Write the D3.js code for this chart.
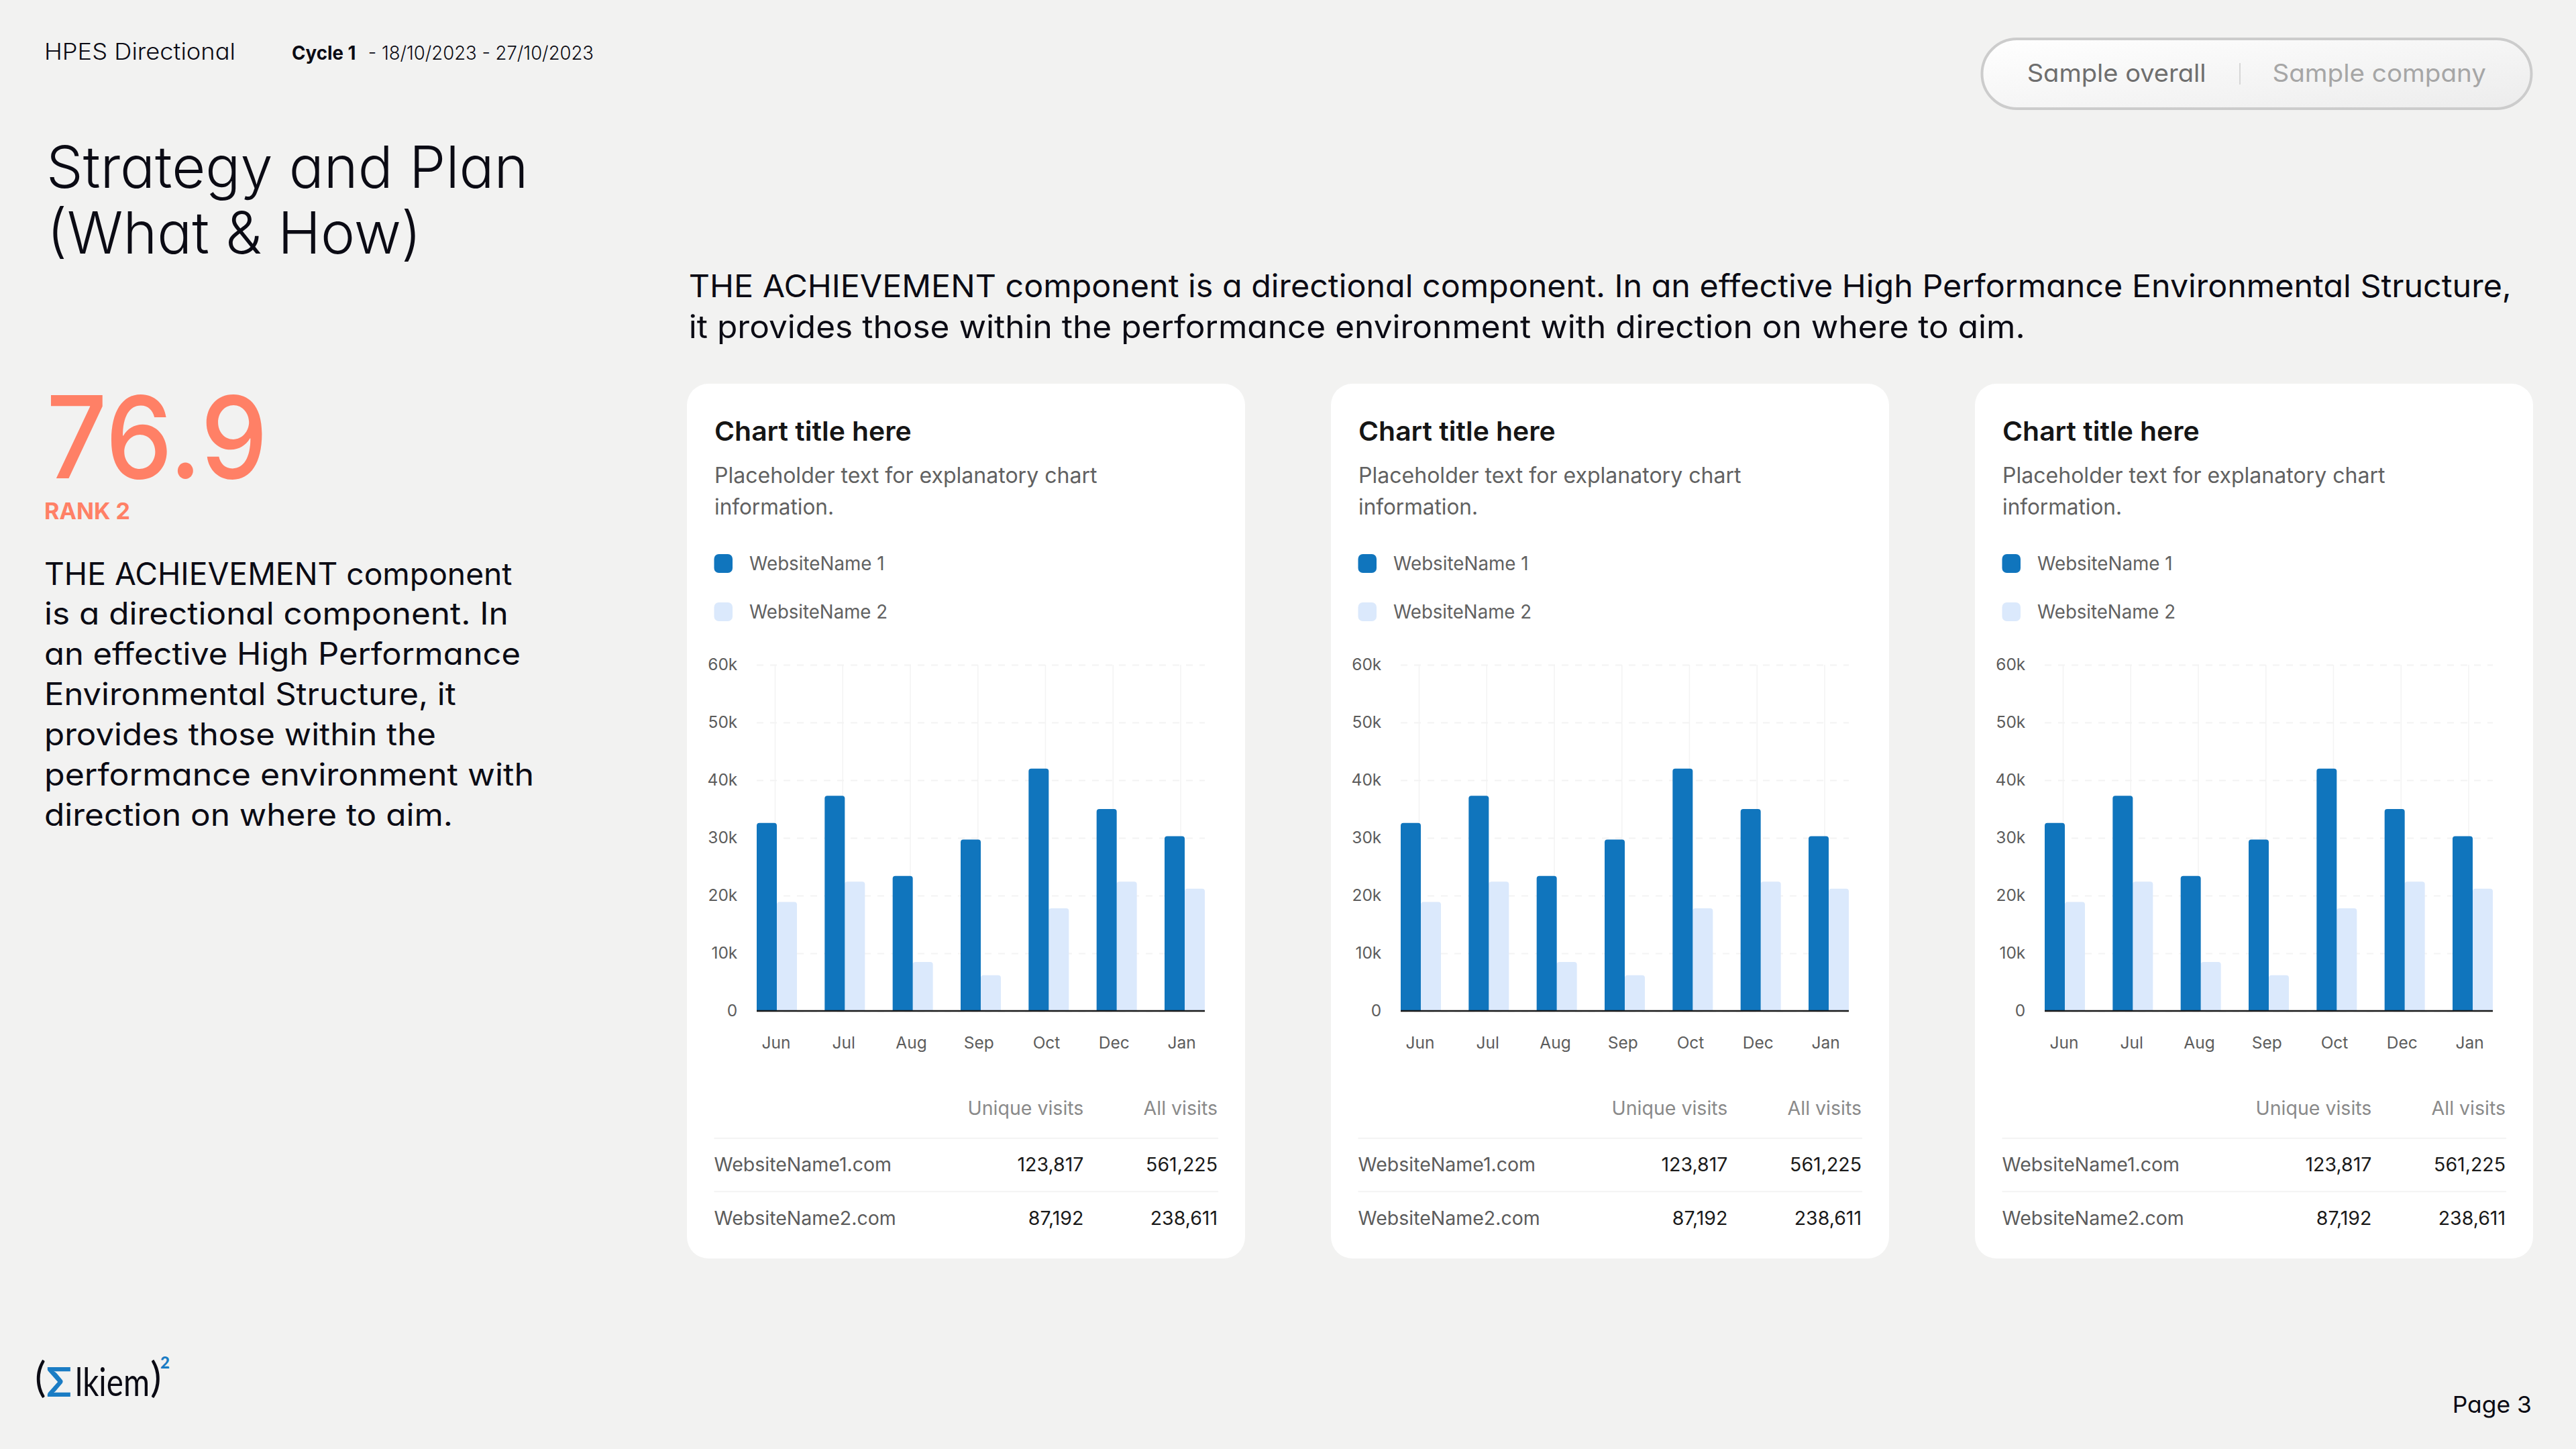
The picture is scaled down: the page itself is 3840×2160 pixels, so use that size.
<!DOCTYPE html>
<html>
<head>
<meta charset="utf-8">
<script src="https://cdnjs.cloudflare.com/ajax/libs/d3/7.8.5/d3.min.js"></script>
<style>
html,body{margin:0;padding:0;background:#f2f2f1;}
svg{display:block;}
text{font-family:Inter,"Noto Sans",sans-serif;}
.geo{font-feature-settings:"cv11" 1,"ss03" 0;}
</style>
</head>
<body>
<svg id="page" width="3840" height="2160" viewBox="0 0 3840 2160"></svg>
<script>
const months = ["Jun","Jul","Aug","Sep","Oct","Dec","Jan"];
const website1 = [32600,37300,23400,29700,42000,35000,30300];
const website2 = [18900,22400,8500,6200,17800,22400,21200];
const yTicks = [0,10000,20000,30000,40000,50000,60000];
const seriesNames = ["WebsiteName 1","WebsiteName 2"];
const seriesColors = ["#1075bd","#dbe9fc"];
const siteNames = ["WebsiteName1.com","WebsiteName2.com"];
const uniqueVisits = [123817,87192];
const allVisits = [561225,238611];
const tableHeads = ["Unique visits","All visits"];
const cardTitle = "Chart title here";
const cardNote = ["Placeholder text for explanatory chart","information."];
const introLines = ["THE ACHIEVEMENT component is a directional component. In an effective High Performance Environmental Structure,","it provides those within the performance environment with direction on where to aim."];
const sideLines = ["THE ACHIEVEMENT component","is a directional component. In","an effective High Performance","Environmental Structure, it","provides those within the","performance environment with","direction on where to aim."];
const sideEnds = [763.5,757.8,776,679.7,650,796,675];
const cards = [0,1,2];

const svg = d3.select("#page");
svg.append("rect").attr("width",3840).attr("height",2160).attr("fill","#f2f2f1");
const defs = svg.append("defs");
const grad = defs.append("linearGradient").attr("id","pill").attr("x1","0").attr("y1","0").attr("x2","1").attr("y2","1");
grad.append("stop").attr("offset","0").attr("stop-color","#ffffff");
grad.append("stop").attr("offset","1").attr("stop-color","#ececec");

function label(g,str,x,y,opt){
  const t = g.append("text").text(str).attr("x",x).attr("y",y)
    .attr("font-size",opt.size).attr("font-weight",opt.weight||400).attr("fill",opt.fill||"#0b0b14");
  if(opt.geo) t.attr("class","geo");
  if(opt.family) t.style("font-family",opt.family);
  if(opt.anchor) t.attr("text-anchor",opt.anchor);
  if(opt.width) t.attr("textLength",opt.width).attr("lengthAdjust","spacingAndGlyphs");
  return t;
}

/* Page chrome */
const page = svg.append("g");
label(page,"HPES Directional",66,89,{size:34,weight:300,geo:1,width:285});
label(page,"Cycle 1",435,89,{size:28,weight:700,geo:1,width:95.5});
label(page," - 18/10/2023 - 27/10/2023",541,89,{size:28,weight:300,geo:1,width:344}).attr("xml:space","preserve");
label(page,"Strategy and Plan",69,279.6,{size:87,weight:300,geo:1,width:718.5});
label(page,"(What & How)",70,377.5,{size:87,weight:300,geo:1,width:558});

/* Toggle */
page.append("rect").attr("x",2954.5).attr("y",58).attr("width",819).attr("height",104).attr("rx",52)
  .attr("fill","url(#pill)").attr("stroke","#cccccc").attr("stroke-width",4);
label(page,"Sample overall",3021.7,121.7,{size:37,weight:400,geo:1,fill:"#6e6e6e",width:266.8});
page.append("line").attr("x1",3339).attr("x2",3339).attr("y1",94).attr("y2",126).attr("stroke","#cccccc").attr("stroke-width",1.5);
label(page,"Sample company",3387.4,121.7,{size:37,weight:400,geo:1,fill:"#a6a6a6",width:318.6});

/* Intro */
label(page,introLines[0],1026.8,443.3,{size:47,weight:400,geo:1,width:2717});
label(page,introLines[1],1026.8,503.7,{size:47,weight:400,geo:1,width:1992});

/* Side column */
label(page,"76.9",69,713,{size:170,weight:500,geo:1,fill:"#ff8066",width:330});
label(page,"RANK 2",66,773.7,{size:34,weight:700,geo:1,fill:"#ff8066",width:128});
const sideBase = d3.scaleLinear().domain([0,6]).range([871.5,1230.9]);
sideLines.forEach((s,i)=>label(page,s,66,sideBase(i),{size:46,weight:400,geo:1,width:sideEnds[i]-66}));

/* Footer */
const logoFont = 'Lato,"Noto Sans",sans-serif';
label(page,"(",52,2075,{size:62,weight:400,family:logoFont,fill:"#0b0b14"});
label(page,"Σ",69,2082,{size:62,weight:700,family:logoFont,fill:"#1a7cc4",width:38});
label(page,"lkiem",112,2080.7,{size:58,weight:400,family:logoFont,fill:"#0b0b14",width:111});
label(page,")",224,2075,{size:62,weight:400,family:logoFont,fill:"#0b0b14"});
label(page,"2",239,2040,{size:24,weight:900,family:logoFont,fill:"#1a7cc4",width:14});
label(page,"Page 3",3655.7,2105.7,{size:34,weight:400,geo:1,fill:"#0b0b14",width:118.3});

/* Cards */
const cardX = d3.scalePoint().domain(cards).range([1024,2944]);
const cardW = 832, cardH = 1304, cardTop = 572;
const plotL = 104, plotW = 668, plotTop = 419, plotH = 516;

const x = d3.scaleBand().domain(months).range([0,plotW]).paddingInner(0.408).paddingOuter(0);
const xSub = d3.scaleBand().domain([0,1]).range([0,x.bandwidth()]);
const xLabels = d3.scalePoint().domain(months).range([27,631.5]);
const y = d3.scaleLinear().domain([0,60000]).range([plotH,0]);
const fmt = d3.format(",");

function topRounded(xp,yp,w,h,r){
  return `M${xp},${yp+h}V${yp+r}Q${xp},${yp} ${xp+r},${yp}H${xp+w-r}Q${xp+w},${yp} ${xp+w},${yp+r}V${yp+h}Z`;
}

cards.forEach(c=>{
  const g = svg.append("g").attr("transform",`translate(${cardX(c)},${cardTop})`);
  g.append("rect").attr("width",cardW).attr("height",cardH).attr("rx",32).attr("fill","#ffffff");

  label(g,cardTitle,41,85.3,{size:39.5,weight:600,fill:"#151515",width:293.8});
  label(g,cardNote[0],41,148,{size:32,weight:400,fill:"#616161",width:570.5});
  label(g,cardNote[1],41,195.3,{size:32,weight:400,fill:"#616161",width:178});

  seriesNames.forEach((n,i)=>{
    const ly = d3.scaleLinear().domain([0,1]).range([254,326])(i);
    g.append("rect").attr("x",40.5).attr("y",ly).attr("width",27.5).attr("height",28).attr("rx",7).attr("fill",seriesColors[i]);
    label(g,n,93,ly+24,{size:28.5,weight:400,fill:"#616161",width:i?206:201.6});
  });

  const plot = g.append("g").attr("transform",`translate(${plotL},${plotTop})`);

  const gridV = plot.append("g").attr("transform",`translate(0,${plotH})`)
    .call(d3.axisBottom(xLabels).tickSize(-plotH).tickPadding(0).tickFormat(""));
  gridV.select(".domain").remove();
  gridV.selectAll("line").attr("stroke","#f3f3f3").attr("stroke-width",1.5);

  const gridH = plot.append("g")
    .call(d3.axisLeft(y).tickValues(yTicks).tickSize(-plotW).tickPadding(28.7)
      .tickFormat(d=>d?`${d/1000}k`:"0"));
  gridH.select(".domain").remove();
  gridH.selectAll("line").attr("stroke","#f3f3f3").attr("stroke-width",2).attr("stroke-dasharray","10 10");
  gridH.selectAll("text").attr("font-size",24.5).style("font-family","Inter").attr("fill","#5c5c5c");

  [website2,website1].forEach((vals,k)=>{
    const idx = k===0?1:0;
    plot.append("g").selectAll("path").data(vals).join("path")
      .attr("d",(v,i)=>topRounded(x(months[i])+xSub(idx),y(v),xSub.bandwidth(),plotH-y(v),4))
      .attr("fill",seriesColors[idx]);
  });

  const xAxis = plot.append("g").attr("transform",`translate(0,${plotH})`)
    .call(d3.axisBottom(xLabels).tickSize(0).tickPadding(0));
  xAxis.select(".domain").remove();
  xAxis.selectAll("text").attr("font-size",24.5).style("font-family","Inter").attr("fill","#5c5c5c")
    .attr("x",1.5).attr("y",55.5).attr("dy",0);

  plot.append("line").attr("x1",0).attr("x2",plotW).attr("y1",y(0)).attr("y2",y(0))
    .attr("stroke","#1a1a1a").attr("stroke-width",2.5);

  const colR = [591.4,791];
  label(g,tableHeads[0],colR[0],1089.7,{size:28.5,fill:"#8a8a8a",anchor:"end"});
  label(g,tableHeads[1],colR[1],1089.7,{size:28.5,fill:"#8a8a8a",anchor:"end"});
  [1124.7,1204.3].forEach(ry=>g.append("line").attr("x1",40.5).attr("x2",792).attr("y1",ry).attr("y2",ry)
     .attr("stroke","#f3f3f3").attr("stroke-width",2));
  siteNames.forEach((n,i)=>{
    const ry = d3.scaleLinear().domain([0,1]).range([1174,1253.7])(i);
    label(g,n,40.5,ry,{size:28.5,fill:"#5c5c5c"});
    label(g,fmt(uniqueVisits[i]),colR[0],ry,{size:28.5,fill:"#1a1a1a",anchor:"end"});
    label(g,fmt(allVisits[i]),colR[1],ry,{size:28.5,fill:"#1a1a1a",anchor:"end"});
  });
});
</script>
</body>
</html>
